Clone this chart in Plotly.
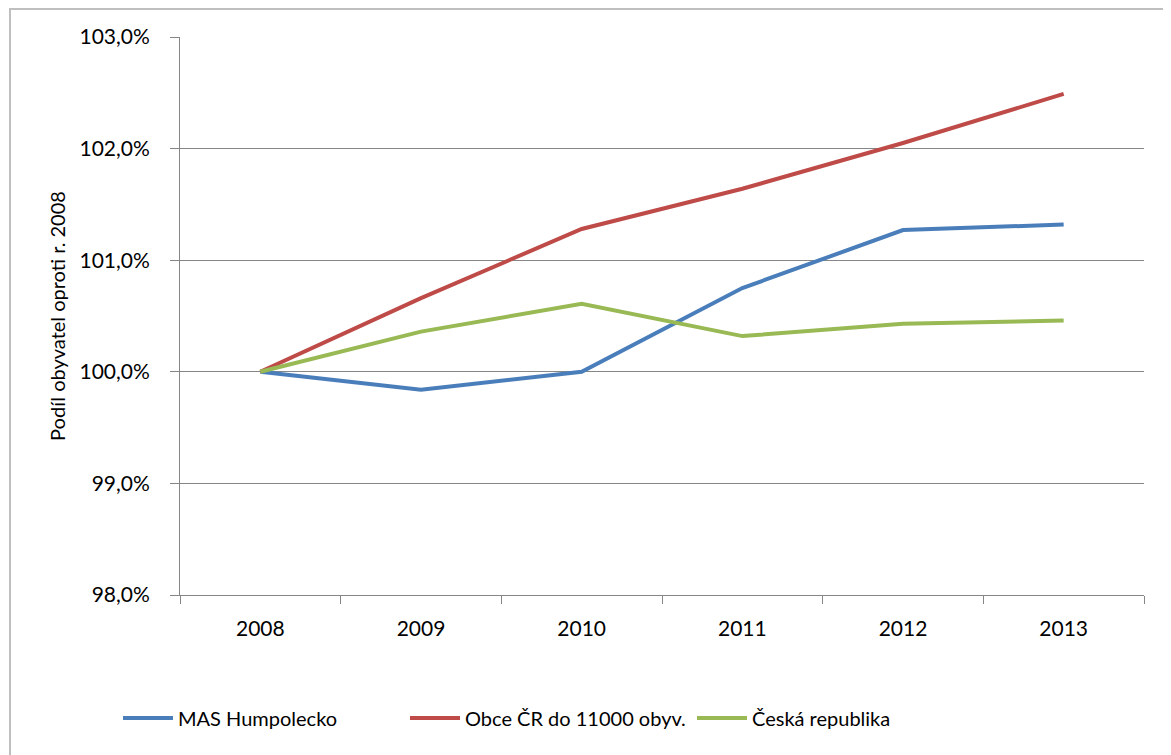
import plotly.graph_objects as go

years = ["2008", "2009", "2010", "2011", "2012", "2013"]
mas_humpolecko = [100.0, 99.84, 100.0, 100.75, 101.27, 101.32]
obce_cr = [100.0, 100.66, 101.28, 101.64, 102.05, 102.49]
ceska_republika = [100.0, 100.36, 100.61, 100.32, 100.43, 100.46]

series = [
    ("MAS Humpolecko", mas_humpolecko, "#4A7EBB"),
    ("Obce ČR do 11000 obyv.", obce_cr, "#BE4B48"),
    ("Česká republika", ceska_republika, "#98B954"),
]

FONT = "Lato, Open Sans, sans-serif"

fig = go.Figure()
for name, vals, color in series:
    fig.add_trace(go.Scatter(x=years, y=vals, name=name, mode="lines",
                             line=dict(color=color, width=4)))

W, H = 1171, 755
OFF = 8  # page body offset
L, R, T, B = 180 - OFF, 35, 37 - OFF, 168
pw, ph = W - L - R, H - T - B

def px(x):  # page x -> paper
    return (x - OFF - L) / pw

def py(y):  # page y -> paper
    return (H - B - (y - OFF)) / ph

fig.update_layout(
    width=W, height=H,
    margin=dict(l=L, r=R, t=T, b=B, autoexpand=False),
    paper_bgcolor="white", plot_bgcolor="white",
    separators=",.",
    font=dict(family=FONT, size=21, color="#000000"),
    showlegend=True,
    legend=dict(orientation="h", x=px(118), xanchor="left", y=py(718), yanchor="middle",
                font=dict(family=FONT, size=20), entrywidth=222, entrywidthmode="pixels",
                itemwidth=50, tracegroupgap=0),
    xaxis=dict(type="category", range=[-0.5, 5.5], showline=True, linecolor="#868686", linewidth=1,
               showgrid=False, ticks="outside", tickson="boundaries", ticklen=8,
               tickcolor="#868686", tickfont=dict(size=21), zeroline=False,
               ticklabelstandoff=15),
    yaxis=dict(range=[98, 103], dtick=1, tick0=98, tickformat=".1f", ticksuffix="%",
               showline=True, linecolor="#868686", linewidth=1,
               showgrid=True, gridcolor="#868686", gridwidth=1,
               ticks="outside", ticklen=9, tickcolor="#868686",
               tickfont=dict(size=21), zeroline=False, ticklabelstandoff=16,
               title=dict(text="Podíl obyvatel oproti r. 2008", font=dict(size=20), standoff=8)),
    shapes=[dict(type="rect", xref="paper", yref="paper",
                 x0=px(10), x1=px(1190), y0=py(775), y1=py(9),
                 line=dict(color="#BFBFBF", width=2), fillcolor="rgba(0,0,0,0)", layer="below")],
)

fig.write_html("out.html")
